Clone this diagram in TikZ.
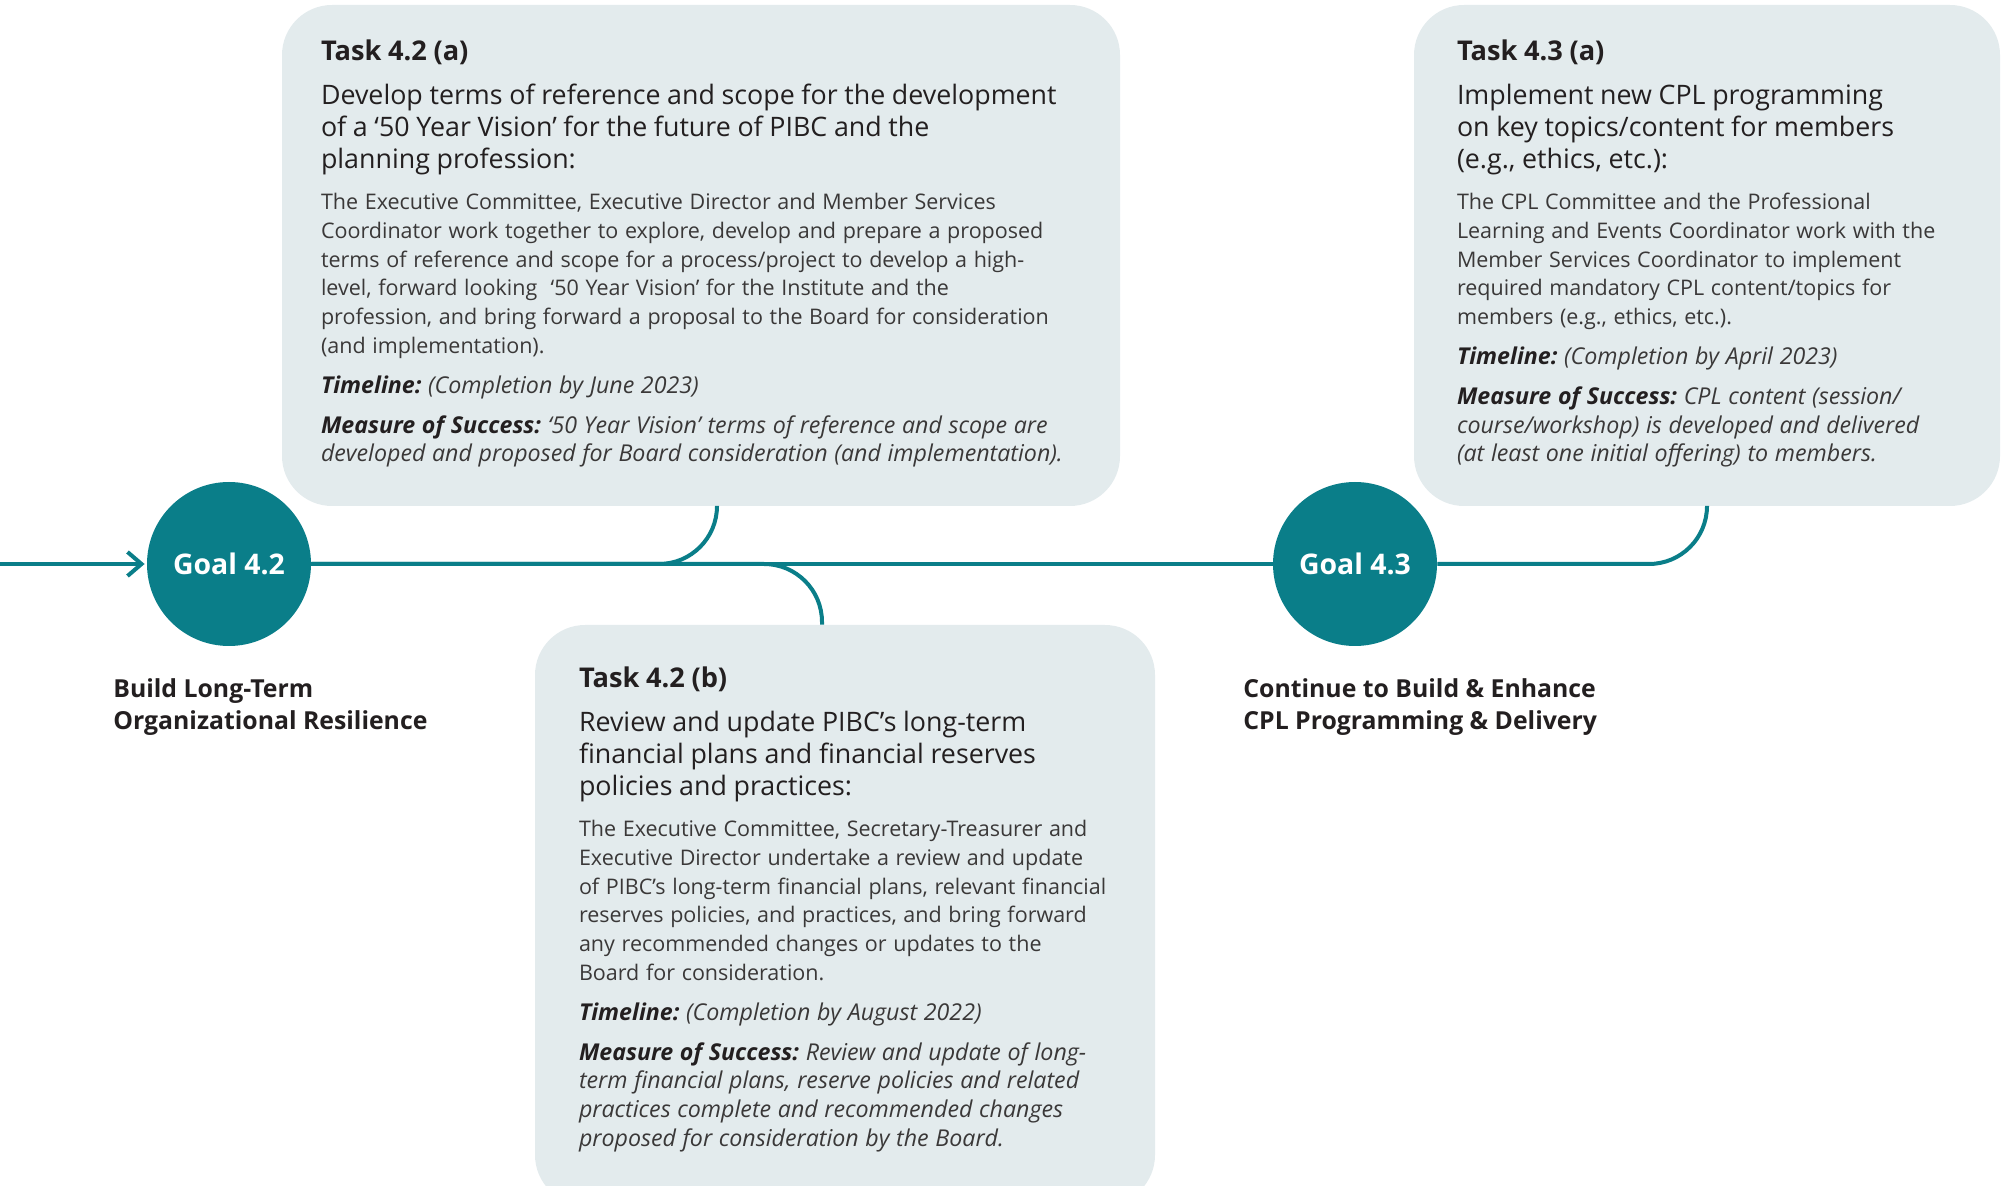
\documentclass[tikz,border=0pt]{standalone}
\usepackage{fontspec}
\setmainfont{Open Sans}
\usepackage{xcolor}
\usetikzlibrary{arrows.meta,positioning}
\definecolor{goalteal}{HTML}{0A7E89}
\definecolor{taskfill}{HTML}{E3EBED}
\definecolor{textdark}{HTML}{231F20}
\definecolor{textsoft}{HTML}{3A3838}
\frenchspacing
\newcommand{\titlefont}{\fontsize{13.6}{16}\selectfont\bfseries}
\newcommand{\headfont}{\fontsize{13.4}{16}\selectfont}
\newcommand{\bodyfont}{\fontsize{10.75}{14.4}\selectfont\color{textsoft}}
\newcommand{\notefont}{\fontsize{11.6}{14.4}\selectfont\itshape\color{textsoft}}
\newcommand{\notelabel}[1]{{\bfseries\color{textdark}#1}}
\tikzstyle{goal state}=[
        circle,
        fill = goalteal,
        text = white,
        minimum size = 82pt,
        inner sep = 0pt,
        font = \fontsize{14.2}{16}\selectfont\bfseries
    ]
\tikzstyle{task box}=[
    fill = taskfill,
    rounded corners = 25pt,
    inner sep = 0pt
]
\tikzstyle{task text}=[
    text = textdark,
    text width = 400pt,
    align = left,
    inner sep = 0pt,
    anchor = north west
]
\tikzstyle{goal label}=[
    text = textdark,
    align = left,
    inner sep = 0pt,
    anchor = north west,
    font = \fontsize{12.4}{16}\selectfont\bfseries
]

\begin{document}
\begin{tikzpicture}[x=0.5pt, y=0.5pt, node distance={563pt}, link/.style = {draw = goalteal, line width = 2pt}]
        \useasboundingbox (0,0) rectangle (2007,-1186);
        \clip (0,0) rectangle (2007,-1186);

        \node[task box, minimum width = 419pt, minimum height = 250.5pt] (ta) at (701,-255.5) {};
        \node[task box, minimum width = 310pt, minimum height = 290pt] (tb) at (845,-915) {};
        \node[task box, minimum width = 293pt, minimum height = 250.5pt] (tc) at (1707,-255.5) {};

        \node[goal state] (g42) at (229,-564) {Goal 4.2};
        \node[goal state] (g43) [right of = g42] {Goal 4.3};
        \coordinate (start) at (0,-564);

        \draw[link, -{Straight Barb[length=7pt, width=12pt]}, shorten >= 1pt] (start) -- (g42);
        \draw[link] (g42) -- (g43);
        \draw[link, rounded corners = 29pt] (g42) -| ([xshift = 8pt]ta.south);
        \draw[link, rounded corners = 29pt] (g42) -| ([xshift = -11.5pt]tb.north);
        \draw[link, rounded corners = 29pt] (g43) -| (tc.south);

        \node[goal label] (l42) at ([xshift = -58pt, yshift = -16pt]g42.south) {Build Long-Term\\Organizational Resilience};
        \node[goal label] (l43) at ([xshift = -56pt, yshift = -16pt]g43.south) {Continue to Build \& Enhance\\CPL Programming \& Delivery};

        \node[task text] (xa) at ([xshift = 19.5pt, yshift = -17.5pt]ta.north west) {
            {\titlefont Task 4.2 (a)\par}\vspace{6pt}
            {\headfont Develop terms of reference and scope for the development\\of a ‘50 Year Vision’ for the future of PIBC and the\\planning profession:\par}\vspace{6pt}
            {\bodyfont The Executive Committee, Executive Director and Member Services\\Coordinator work together to explore, develop and prepare a proposed\\terms of reference and scope for a process/project to develop a high-\\level, forward looking \ ‘50 Year Vision’ for the Institute and the\\profession, and bring forward a proposal to the Board for consideration\\(and implementation).\par}\vspace{5.5pt}
            {\notefont\notelabel{Timeline:} (Completion by June 2023)\par}\vspace{5.5pt}
            {\notefont\notelabel{Measure of Success:} ‘50 Year Vision’ terms of reference and scope are\\developed and proposed for Board consideration (and implementation).\par}
        };

        \node[task text] (xb) at ([xshift = 22pt, yshift = -21pt]tb.north west) {
            {\titlefont Task 4.2 (b)\par}\vspace{6pt}
            {\headfont Review and update PIBC’s long-term\\financial plans and financial reserves\\policies and practices:\par}\vspace{6pt}
            {\bodyfont The Executive Committee, Secretary-Treasurer and\\Executive Director undertake a review and update\\of PIBC’s long-term financial plans, relevant financial\\reserves policies, and practices, and bring forward\\any recommended changes or updates to the\\Board for consideration.\par}\vspace{5.5pt}
            {\notefont\notelabel{Timeline:} (Completion by August 2022)\par}\vspace{5.5pt}
            {\notefont\notelabel{Measure of Success:} Review and update of long-\\term financial plans, reserve policies and related\\practices complete and recommended changes\\proposed for consideration by the Board.\par}
        };

        \node[task text] (xc) at ([xshift = 21.5pt, yshift = -17.5pt]tc.north west) {
            {\titlefont Task 4.3 (a)\par}\vspace{6pt}
            {\headfont Implement new CPL programming\\on key topics/content for members\\(e.g., ethics, etc.):\par}\vspace{6pt}
            {\bodyfont The CPL Committee and the Professional\\Learning and Events Coordinator work with the\\Member Services Coordinator to implement\\required mandatory CPL content/topics for\\members (e.g., ethics, etc.).\par}\vspace{5.5pt}
            {\notefont\notelabel{Timeline:} (Completion by April 2023)\par}\vspace{5.5pt}
            {\notefont\notelabel{Measure of Success:} CPL content (session/\\course/workshop) is developed and delivered\\(at least one initial offering) to members.\par}
        };

    \end{tikzpicture}
\end{document}
